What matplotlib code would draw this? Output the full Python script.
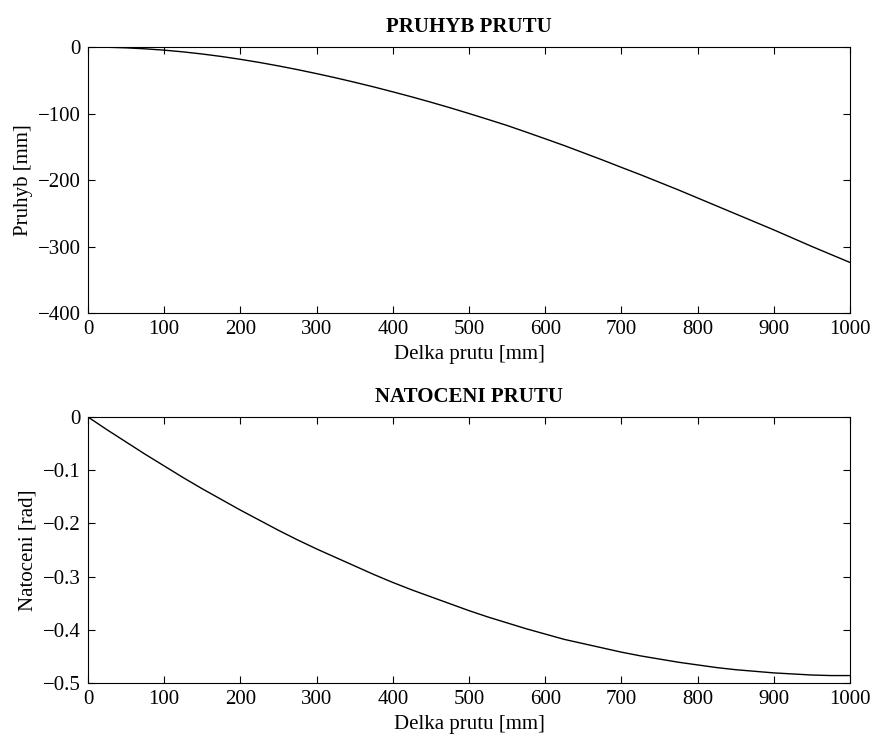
import matplotlib
matplotlib.use("Agg")
import matplotlib.pyplot as plt

# values
x_pruhyb = [10, 25, 50, 75, 100, 125, 150, 175, 200, 225, 250, 275, 300, 325, 350, 375, 400,
            425, 450, 475, 500, 525, 550, 575, 600, 625, 650, 675, 700, 725, 750, 775, 800,
            825, 850, 875, 900, 925, 950, 975, 1000]
pruhyb = [-0.05, -0.3, -1.2, -2.7, -4.7, -7.3, -10.5, -14.2, -18.5, -23.2, -28.4, -34, -40,
          -46.3, -53, -60, -67.4, -75, -83, -91.3, -100, -108.9, -118, -127.9, -138, -148.2,
          -159, -169.8, -181, -192, -203.5, -215, -227, -239, -251, -263, -275, -287.5, -300,
          -312, -324]

x_natoceni = [0, 25, 50, 75, 100, 125, 150, 175, 200, 225, 250, 275, 300, 325, 350, 375, 400,
              425, 450, 475, 500, 525, 550, 575, 600, 625, 650, 675, 700, 725, 750, 775, 800,
              825, 850, 875, 900, 925, 950, 975, 1000]
natoceni = [0, -0.024, -0.047, -0.070, -0.092, -0.114, -0.135, -0.155, -0.175, -0.194, -0.213,
            -0.231, -0.248, -0.264, -0.280, -0.296, -0.311, -0.325, -0.338, -0.351, -0.364,
            -0.376, -0.387, -0.398, -0.408, -0.418, -0.426, -0.434, -0.442, -0.449, -0.455,
            -0.461, -0.466, -0.471, -0.475, -0.478, -0.481, -0.483, -0.485, -0.486, -0.486]

x_ticks = [0, 100, 200, 300, 400, 500, 600, 700, 800, 900, 1000]
y_ticks_top = [-400, -300, -200, -100, 0]
y_ticks_bot = [-0.5, -0.4, -0.3, -0.2, -0.1, 0]

plt.rcParams["font.family"] = ["Liberation Serif", "DejaVu Serif"]
plt.rcParams["font.size"] = 15
plt.rcParams["axes.linewidth"] = 0.8

fig = plt.figure(figsize=(8.74, 7.36), dpi=100)
ax1 = fig.add_axes([0.1007, 0.5747, 0.8719, 0.3614])
ax2 = fig.add_axes([0.1007, 0.0720, 0.8719, 0.3614])


def style(ax):
    ax.tick_params(direction="in", top=True, right=True, length=5, width=0.8)
    ax.tick_params(axis="x", pad=5)
    ax.tick_params(axis="y", pad=5)
    ax.set_xlim(0, 1000)
    ax.set_xticks(x_ticks)
    ax.set_xticklabels([str(t) for t in x_ticks])


ax1.plot(x_pruhyb, pruhyb, color="black", lw=1.0)
style(ax1)
ax1.set_ylim(-400, 0)
ax1.set_yticks(y_ticks_top)
ax1.set_yticklabels(["\u2212400", "\u2212300", "\u2212200", "\u2212100", "0"])
ax1.set_title("PRUHYB PRUTU", fontweight="bold", fontsize=15, pad=11)
ax1.set_xlabel("Delka prutu [mm]", labelpad=4)
ax1.set_ylabel("Pruhyb [mm]", labelpad=4)

ax2.plot(x_natoceni, natoceni, color="black", lw=1.0)
style(ax2)
ax2.set_ylim(-0.5, 0)
ax2.set_yticks(y_ticks_bot)
ax2.set_yticklabels(["\u22120.5", "\u22120.4", "\u22120.3", "\u22120.2", "\u22120.1", "0"])
ax2.set_title("NATOCENI PRUTU", fontweight="bold", fontsize=15, pad=11)
ax2.set_xlabel("Delka prutu [mm]", labelpad=4)
ax2.set_ylabel("Natoceni [rad]", labelpad=4)

fig.savefig("out.png", dpi=100)
